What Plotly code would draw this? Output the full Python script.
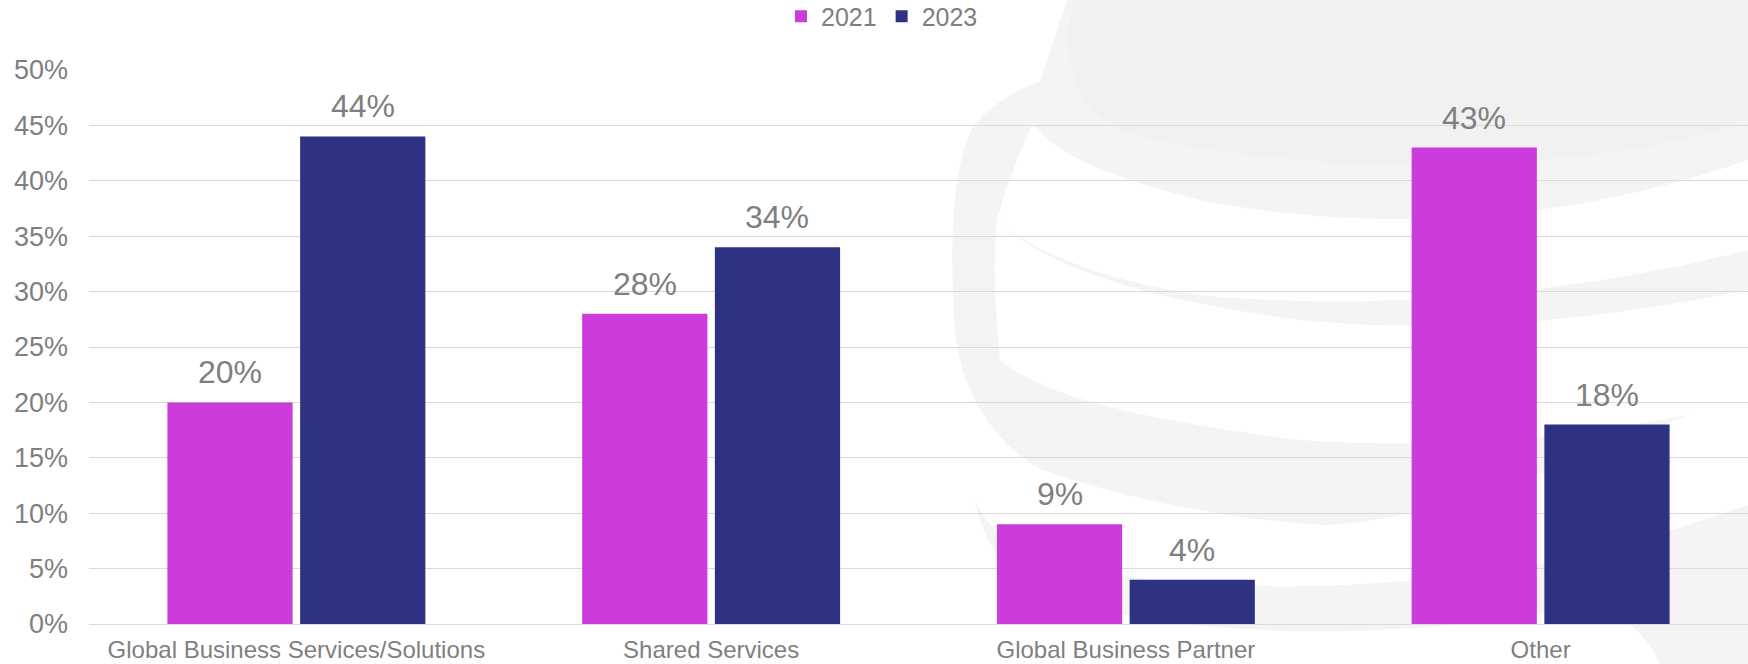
import plotly.graph_objects as go

# Survey shares by organisation model
categories = ["Global Business Services/Solutions", "Shared Services",
              "Global Business Partner", "Other"]
years = ["2021", "2023"]
share_2021 = [0.20, 0.28, 0.09, 0.43]
share_2023 = [0.44, 0.34, 0.04, 0.18]
y_ticks = [0, 0.05, 0.10, 0.15, 0.20, 0.25, 0.30, 0.35, 0.40, 0.45, 0.50]

COLORS = {"2021": "#CC3CDC", "2023": "#2E3282"}
TEXT = "#7F7F7F"
GRID = "#DADADA"
FONT = "Liberation Sans, Arial, sans-serif"

W, H = 1748, 664
ML, MR, MT, MB = 89, 0, 70, 40
PW, PH = W - ML - MR, H - MT - MB
BARGAP, GROUPGAP = 0.36, 0.0565

fig = go.Figure()
for yr, vals in zip(years, [share_2021, share_2023]):
    fig.add_trace(go.Bar(
        name=yr, x=categories, y=vals,
        marker=dict(color=COLORS[yr], line=dict(width=0)),
    ))

# value labels above each bar, offset to the bar's slot within its group
slot_px = (1 - BARGAP) * (PW / len(categories)) / len(years)
annotations = []
for i, (yr, vals) in enumerate(zip(years, [share_2021, share_2023])):
    shift = (i - (len(years) - 1) / 2) * slot_px
    for c, v in zip(categories, vals):
        annotations.append(dict(
            x=c, y=v, xref="x", yref="y", text=f"{v:.0%}",
            showarrow=False, yanchor="bottom", xanchor="center",
            xshift=shift, yshift=10,
            font=dict(family=FONT, size=32, color=TEXT),
        ))


# light background emblem, drawn in pixel space and mapped to paper space
def to_paper(points):
    return [((px - ML) / PW, (H - MB - py) / PH) for px, py in points]


def path_from(cmds):
    out = []
    for cmd in cmds:
        op, pts = cmd[0], cmd[1:]
        conv = to_paper(pts)
        out.append(op + " " + " ".join(f"{x:.4f},{y:.4f}" for x, y in conv))
    return " ".join(out) + " Z"


emblem = [
    # outer ring and middle swoosh
    ("#F4F4F4", [
        ("M", (1067, 0)), ("L", (1748, 0)), ("L", (1748, 390)),
        ("C", (1600, 450), (1450, 520), (1324, 525)),
        ("C", (1230, 520), (1130, 500), (1040, 469)),
        ("C", (990, 440), (962, 390), (955, 332)),
        ("C", (950, 260), (950, 170), (973, 127)),
        ("C", (990, 105), (1015, 90), (1040, 82)),
    ]),
    # lower swoosh towards the bottom right
    ("#F4F4F4", [
        ("M", (1040, 560)), ("C", (1200, 600), (1400, 590), (1560, 560)),
        ("C", (1650, 540), (1700, 520), (1748, 505)),
        ("L", (1748, 664)), ("L", (1660, 664)),
        ("C", (1640, 620), (1600, 600), (1560, 610)),
        ("C", (1400, 640), (1200, 640), (1060, 600)),
        ("C", (1000, 580), (980, 530), (975, 500)),
        ("C", (990, 530), (1010, 550), (1040, 560)),
    ]),
    # upper lobe
    ("#F1F1F1", [
        ("M", (1073, 0)), ("L", (1748, 0)), ("L", (1748, 120)),
        ("C", (1650, 160), (1450, 170), (1330, 163)),
        ("C", (1230, 153), (1150, 145), (1110, 125)),
        ("C", (1070, 100), (1063, 50), (1073, 0)),
    ]),
]

# white channels separating the swooshes
channels = [
    [("M", (1033, 123)), ("C", (1050, 150), (1100, 175), (1200, 200)),
     ("C", (1350, 230), (1550, 230), (1748, 160)),
     ("L", (1748, 250)),
     ("C", (1550, 300), (1350, 310), (1200, 295)),
     ("C", (1100, 280), (1030, 250), (997, 220)),
     ("C", (1005, 190), (1020, 150), (1033, 123))],
    [("M", (997, 220)), ("C", (1050, 270), (1150, 300), (1300, 320)),
     ("C", (1450, 335), (1600, 320), (1748, 290)),
     ("L", (1748, 400)),
     ("C", (1600, 440), (1450, 450), (1300, 440)),
     ("C", (1150, 420), (1050, 400), (1000, 360)),
     ("C", (995, 310), (993, 260), (997, 220))],
]

shapes = []
for color, cmds in emblem:
    shapes.append(dict(type="path", xref="paper", yref="paper",
                       path=path_from(cmds), fillcolor=color,
                       line=dict(width=0), layer="below"))
for cmds in channels:
    shapes.append(dict(type="path", xref="paper", yref="paper",
                       path=path_from(cmds), fillcolor="#FFFFFF",
                       line=dict(width=0), layer="below"))

fig.update_layout(
    width=W, height=H,
    margin=dict(l=ML, r=MR, t=MT, b=MB, pad=0, autoexpand=False),
    paper_bgcolor="white", plot_bgcolor="rgba(0,0,0,0)",
    barmode="group", bargap=BARGAP, bargroupgap=GROUPGAP,
    font=dict(family=FONT, color=TEXT),
    legend=dict(orientation="h", x=0.478, xanchor="center",
                y=(H - MB - 16.5) / PH, yanchor="middle", itemwidth=30,
                font=dict(family=FONT, size=25, color=TEXT),
                bgcolor="rgba(0,0,0,0)"),
    xaxis=dict(showgrid=False, showline=False, zeroline=False,
               ticks="", ticklabelstandoff=9,
               tickfont=dict(family=FONT, size=24, color=TEXT)),
    yaxis=dict(range=[0, 0.5], tickvals=y_ticks, tickformat=".0%",
               showgrid=True, gridcolor=GRID, gridwidth=1.3,
               zeroline=True, zerolinecolor=GRID, zerolinewidth=1.3,
               showline=False, ticks="", ticklabelstandoff=20,
               tickfont=dict(family=FONT, size=27, color=TEXT)),
    annotations=annotations,
    shapes=shapes,
)

fig.write_html("out.html")
